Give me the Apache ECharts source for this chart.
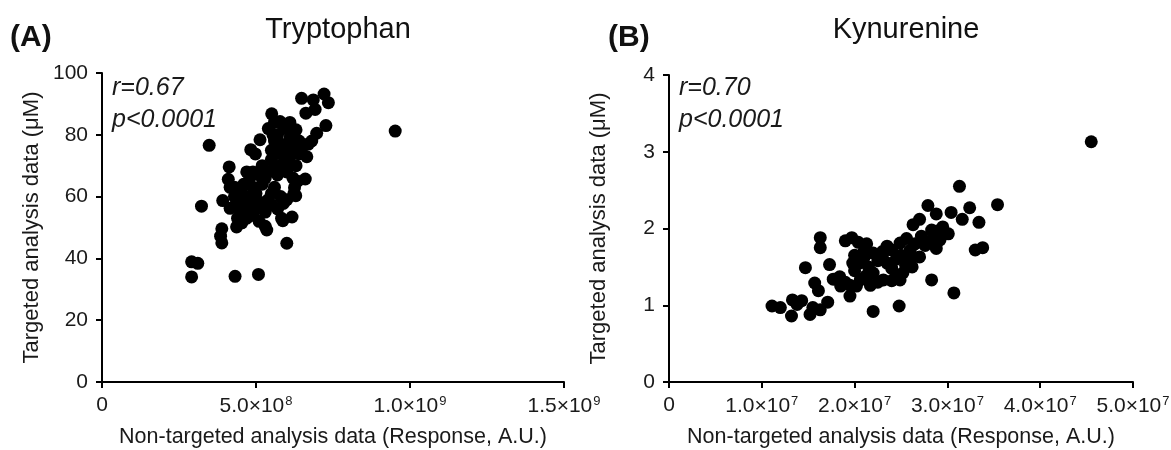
<!DOCTYPE html>
<html>
<head>
<meta charset="utf-8">
<script src="https://cdn.jsdelivr.net/npm/echarts@6/dist/echarts.min.js"></script>
<style>
html,body{margin:0;padding:0;background:#fff;}
#chart{width:1171px;height:450px;}
</style>
</head>
<body>
<div id="chart"></div>
<script>
// ---------- DATA ----------
const titles = ['Tryptophan', 'Kynurenine'];
const panelLabels = ['(A)', '(B)'];
const rTexts = ['r=0.67', 'r=0.70'];
const pTexts = ['p<0.0001', 'p<0.0001'];
const xAxisName = 'Non-targeted analysis data (Response, A.U.)';
const yAxisName = 'Targeted analysis data (\u03bcM)';

const tryX = [0.952e9,0.348e9,0.323e9,0.291e9,0.311e9,0.291e9,0.432e9,0.508e9,0.600e9,0.389e9,0.385e9,0.389e9,0.392e9,0.413e9,0.410e9,0.416e9,0.483e9,0.498e9,0.513e9,0.551e9,0.560e9,0.578e9,0.600e9,0.630e9,0.648e9,0.686e9,0.721e9,0.735e9,0.662e9,0.692e9,0.727e9,0.697e9,0.681e9,0.665e9,0.640e9,0.660e9,0.623e9,0.625e9,0.589e9,0.583e9,0.587e9,0.535e9,0.530e9,0.437e9,0.454e9,0.416e9,0.470e9,0.491e9,0.502e9,0.551e9,0.43e9,0.44e9,0.45e9,0.46e9,0.47e9,0.48e9,0.49e9,0.50e9,0.51e9,0.52e9,0.50e9,0.46e9,0.44e9,0.43e9,0.47e9,0.49e9,0.52e9,0.53e9,0.54e9,0.55e9,0.56e9,0.57e9,0.55e9,0.56e9,0.57e9,0.58e9,0.59e9,0.60e9,0.61e9,0.62e9,0.58e9,0.57e9,0.56e9,0.58e9,0.55e9,0.54e9,0.52e9,0.60e9,0.61e9,0.62e9,0.63e9,0.635e9,0.62e9,0.54e9,0.555e9,0.59e9,0.61e9,0.50e9,0.48e9,0.45e9,0.44e9,0.47e9,0.51e9,0.53e9,0.57e9,0.60e9,0.64e9,0.65e9,0.67e9,0.617e9,0.629e9];
const tryY = [81.2,76.6,56.9,38.9,38.4,34.0,34.2,34.8,44.9,49.6,47.2,45.0,58.7,69.6,65.6,63.0,75.2,73.8,78.4,86.8,84.0,84.3,82.6,81.6,91.8,91.3,93.2,90.4,87.0,88.2,83.0,80.5,78.0,72.9,73.8,65.7,61.0,62.9,57.8,53.0,52.2,49.2,50.4,50.2,51.5,56.2,55.7,54.0,57.3,57.3,60,58,62,64,60,66,63,61,67,64,59,58,61,63,68,68,70,66,68,72,70,74,75,78,80,77,73,76,79,77,70,67,63,60,61,59,58,68,71,74,70,65,66,82,80,82,84,56,57,55,53,53,52,55,56,59,78,76,77,53.4,60.3];

const kynX = [4.55e7,3.13e7,3.54e7,3.24e7,3.04e7,3.16e7,3.34e7,3.38e7,3.30e7,3.07e7,2.83e7,2.48e7,2.20e7,2.79e7,2.88e7,2.70e7,2.63e7,2.83e7,2.95e7,3.01e7,2.92e7,2.88e7,2.76e7,2.70e7,2.60e7,2.52e7,2.49e7,2.56e7,2.49e7,2.40e7,2.35e7,2.31e7,2.17e7,2.06e7,1.95e7,1.95e7,1.84e7,1.77e7,1.90e7,1.97e7,2.04e7,2.13e7,2.20e7,1.63e7,1.63e7,1.47e7,1.73e7,1.57e7,1.61e7,1.11e7,1.20e7,1.32e7,1.33e7,1.43e7,1.52e7,1.55e7,1.63e7,1.71e7,1.38e7,2.00e7,2.05e7,2.10e7,2.15e7,2.20e7,2.25e7,2.30e7,2.35e7,2.40e7,2.45e7,2.50e7,2.55e7,2.60e7,2.65e7,2.72e7,2.80e7,2.85e7,2.90e7,2.10e7,2.00e7,1.90e7,1.85e7,2.02e7,2.12e7,2.25e7,2.40e7,2.45e7,2.62e7,2.30e7,1.98e7,2.58e7];
const kynY = [3.13,2.55,2.31,2.27,2.21,2.12,2.08,1.75,1.72,1.16,1.33,0.99,0.92,2.30,2.19,2.12,2.05,1.98,2.02,1.93,1.85,1.74,1.78,1.63,1.59,1.42,1.33,1.87,1.81,1.72,1.77,1.33,1.26,1.33,1.26,1.12,1.37,1.34,1.84,1.88,1.82,1.80,1.68,1.88,1.75,1.49,1.53,1.29,1.19,0.99,0.97,0.86,1.07,1.06,0.88,0.97,0.94,1.04,1.01,1.45,1.55,1.62,1.50,1.42,1.58,1.65,1.55,1.48,1.60,1.65,1.52,1.72,1.80,1.90,1.82,1.92,1.97,1.70,1.65,1.30,1.25,1.25,1.38,1.30,1.32,1.38,1.50,1.70,1.55,1.62];

const xTicksA = {min: 0, max: 1.5e9, interval: 5e8};
const xTicksB = {min: 0, max: 5e7, interval: 1e7};
const yTicksA = {min: 0, max: 100, interval: 20};
const yTicksB = {min: 0, max: 4, interval: 1};

// ---------- CHART ----------
const FONT = '"Liberation Sans", Arial, sans-serif';
const chart = echarts.init(document.getElementById('chart'));

function sciLabel(v) {
  if (v === 0) return '0';
  const e = Math.floor(Math.log10(v) + 1e-9);
  const m = (v / Math.pow(10, e)).toFixed(1);
  return '{m|' + m + '\u00d710}{e|' + e + '}';
}

const grids = [
  {left: 102, top: 73, width: 462, height: 309, outerBoundsMode: 'none', containLabel: false},
  {left: 669, top: 75, width: 464, height: 307, outerBoundsMode: 'none', containLabel: false}
];

function xAxisDef(idx, ticks) {
  return {
    gridIndex: idx, type: 'value', min: ticks.min, max: ticks.max, interval: ticks.interval,
    name: xAxisName, nameLocation: 'middle', nameGap: 44,
    nameTextStyle: {fontFamily: FONT, fontSize: 21.5, color: '#1a1a1a'},
    axisLine: {show: true, lineStyle: {color: '#000', width: 2}},
    axisTick: {show: true, length: 6, lineStyle: {color: '#000', width: 2}},
    splitLine: {show: false},
    axisLabel: {
      margin: 13, formatter: sciLabel, fontFamily: FONT, fontSize: 21, color: '#1a1a1a',
      rich: {
        m: {fontFamily: FONT, fontSize: 21, color: '#1a1a1a'},
        e: {fontFamily: FONT, fontSize: 13, color: '#1a1a1a', verticalAlign: 'top', padding: [0, 0, 9, 1]}
      }
    }
  };
}
function yAxisDef(idx, ticks) {
  return {
    gridIndex: idx, type: 'value', min: ticks.min, max: ticks.max, interval: ticks.interval,
    name: yAxisName, nameLocation: 'middle', nameGap: 59, nameRotate: 90,
    nameTextStyle: {fontFamily: FONT, fontSize: 22, color: '#1a1a1a'},
    axisLine: {show: true, lineStyle: {color: '#000', width: 2}},
    axisTick: {show: true, length: 6, lineStyle: {color: '#000', width: 2}},
    splitLine: {show: false},
    axisLabel: {margin: 14, fontFamily: FONT, fontSize: 21, color: '#1a1a1a'}
  };
}

function pairs(xs, ys) { return xs.map((x, i) => [x, ys[i]]); }

const gfx = [];
[0, 1].forEach(i => {
  const g = grids[i];
  gfx.push({type: 'text', left: i === 0 ? 10 : 608, top: 23,
    style: {text: panelLabels[i], font: 'bold 30px ' + FONT, fill: '#111'}});
  gfx.push({type: 'text', x: g.left + 10, y: 88,
    style: {text: rTexts[i], font: 'italic 25px ' + FONT, fill: '#1a1a1a', textVerticalAlign: 'middle'}});
  gfx.push({type: 'text', x: g.left + 10, y: 120,
    style: {text: pTexts[i], font: 'italic 25px ' + FONT, fill: '#1a1a1a', textVerticalAlign: 'middle'}});
});

chart.setOption({
  animation: false,
  backgroundColor: '#fff',
  title: [0, 1].map(i => ({
    text: titles[i], left: grids[i].left + grids[i].width / 2, top: 10, textAlign: 'center',
    textStyle: {fontFamily: FONT, fontSize: 29, fontWeight: 'normal', color: '#111'}
  })),
  grid: grids,
  xAxis: [xAxisDef(0, xTicksA), xAxisDef(1, xTicksB)],
  yAxis: [yAxisDef(0, yTicksA), yAxisDef(1, yTicksB)],
  graphic: gfx,
  series: [
    {type: 'scatter', xAxisIndex: 0, yAxisIndex: 0, symbolSize: 13, itemStyle: {color: '#000', opacity: 1}, data: pairs(tryX, tryY)},
    {type: 'scatter', xAxisIndex: 1, yAxisIndex: 1, symbolSize: 13, itemStyle: {color: '#000', opacity: 1}, data: pairs(kynX, kynY)}
  ]
});
</script>
</body>
</html>
